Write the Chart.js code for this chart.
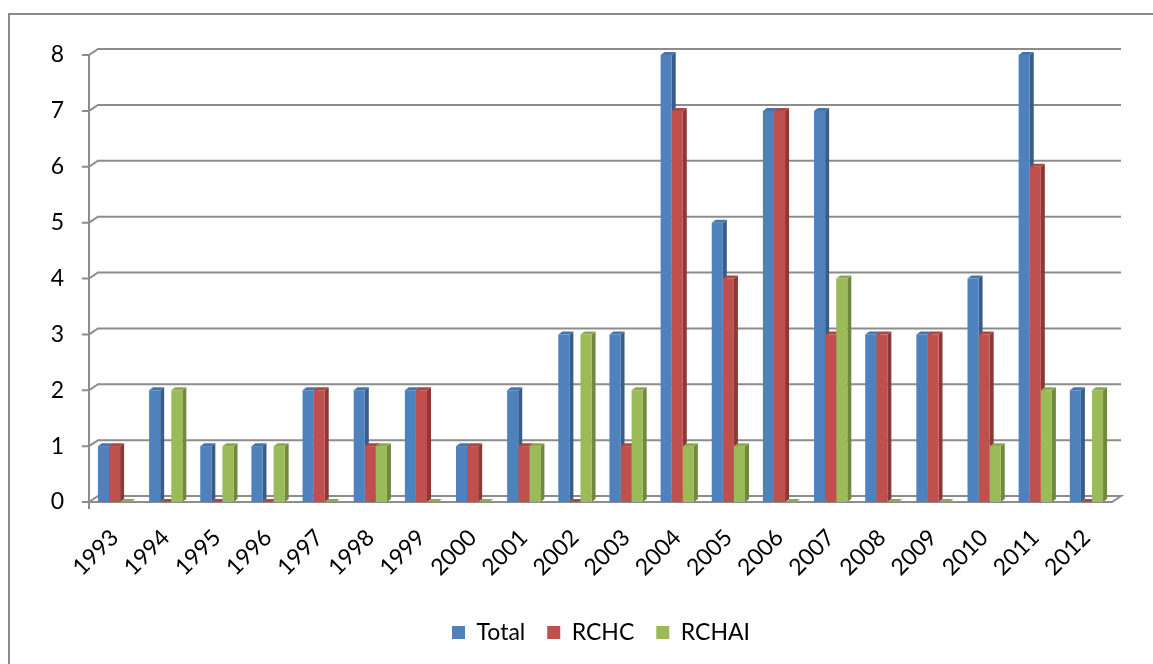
<!DOCTYPE html>
<html>
<head>
<meta charset="utf-8">
<script src="https://cdn.jsdelivr.net/npm/chart.js@4"></script>
<style>
  html, body { margin: 0; padding: 0; background: #fff; overflow: hidden; }
  canvas { display: block; }
</style>
</head>
<body>
<canvas id="c" width="1153" height="664"></canvas>
<script>
// Yearly counts
const years = ['1993','1994','1995','1996','1997','1998','1999','2000','2001','2002',
               '2003','2004','2005','2006','2007','2008','2009','2010','2011','2012'];
const total = [1, 2, 1, 1, 2, 2, 2, 1, 2, 3, 3, 8, 5, 7, 7, 3, 3, 4, 8, 2];
const rchc  = [1, 0, 0, 0, 2, 1, 2, 1, 1, 0, 1, 7, 4, 7, 3, 3, 3, 3, 6, 0];
const rchai = [0, 2, 1, 1, 0, 1, 0, 0, 1, 3, 2, 1, 1, 0, 4, 0, 0, 1, 2, 2];
const yMax = 8;

const FONT = 'Lato, "Open Sans", sans-serif';
const LINE = '#8c8c8c';
const WALL_DX = 9, WALL_DY = 6;   // offset of the back wall
const BAR_DX = 4, BAR_DY = 3;     // depth of each column

const colors = [
  { front: '#4F81BD', side: '#385D8A', top: '#4675AD' },
  { front: '#C0504D', side: '#8C3836', top: '#AD4744' },
  { front: '#9BBB59', side: '#71893F', top: '#8CA950' }
];

// Frame, back wall grid, floor, axis and the depth faces of the columns
const depth = {
  id: 'depth',
  afterLayout(chart) {
    // centre the legend under the framed area
    chart.legend.left = 49;
    chart.legend.right = 1153;
  },
  beforeDraw(chart) {
    const ctx = chart.ctx;
    ctx.save();
    ctx.strokeStyle = '#8a8a8a';
    ctx.lineWidth = 2;
    ctx.beginPath();
    ctx.moveTo(9, chart.height);
    ctx.lineTo(9, 14);
    ctx.lineTo(chart.width, 14);
    ctx.stroke();
    ctx.restore();
  },
  beforeDatasetsDraw(chart) {
    const { ctx, chartArea: a, scales: { y } } = chart;
    const b = y.getPixelForValue(0);
    ctx.save();
    ctx.strokeStyle = LINE;
    ctx.lineWidth = 2;
    y.ticks.forEach(t => {
      const py = y.getPixelForValue(t.value);
      ctx.beginPath();
      ctx.moveTo(a.left - 7, py);
      ctx.lineTo(a.left, py);
      if (t.value !== 0) {
        ctx.lineTo(a.left + WALL_DX, py - WALL_DY);
        ctx.lineTo(a.right + WALL_DX, py - WALL_DY);
      }
      ctx.stroke();
    });
    // floor
    ctx.beginPath();
    ctx.moveTo(a.left, b);
    ctx.lineTo(a.right, b);
    ctx.lineTo(a.right + WALL_DX, b - WALL_DY);
    ctx.lineTo(a.left + WALL_DX, b - WALL_DY);
    ctx.closePath();
    ctx.stroke();
    // vertical axis
    ctx.beginPath();
    ctx.moveTo(a.left, y.getPixelForValue(yMax));
    ctx.lineTo(a.left, b + 7);
    ctx.stroke();

    // side and top faces
    chart.data.datasets.forEach((ds, i) => {
      const c = colors[i];
      chart.getDatasetMeta(i).data.forEach(bar => {
        const p = bar.getProps(['x', 'y', 'base', 'width'], true);
        const l = p.x - p.width / 2, r = p.x + p.width / 2;
        ctx.fillStyle = c.side;
        ctx.beginPath();
        ctx.moveTo(r, p.y);
        ctx.lineTo(r + BAR_DX, p.y - BAR_DY);
        ctx.lineTo(r + BAR_DX, p.base - BAR_DY);
        ctx.lineTo(r, p.base);
        ctx.closePath();
        ctx.fill();
        ctx.fillStyle = c.top;
        ctx.beginPath();
        ctx.moveTo(l, p.y);
        ctx.lineTo(l + BAR_DX, p.y - BAR_DY);
        ctx.lineTo(r + BAR_DX, p.y - BAR_DY);
        ctx.lineTo(r, p.y);
        ctx.closePath();
        ctx.fill();
      });
    });
    ctx.restore();
  }
};

// Legend sits in a fixed-height band at the bottom
const legendBand = {
  id: 'legendBand',
  beforeInit(chart) {
    const fit = chart.legend.fit;
    chart.legend.fit = function () {
      fit.call(this);
      this.height = 65;
    };
  }
};

new Chart(document.getElementById('c'), {
  type: 'bar',
  data: {
    labels: years,
    datasets: [
      { label: 'Total', data: total, backgroundColor: colors[0].front },
      { label: 'RCHC',  data: rchc,  backgroundColor: colors[1].front },
      { label: 'RCHAI', data: rchai, backgroundColor: colors[2].front }
    ]
  },
  options: {
    responsive: false,
    animation: false,
    devicePixelRatio: 1,
    layout: { padding: { left: 0, right: 41, top: 55, bottom: 0 } },
    datasets: { bar: { categoryPercentage: 0.65, barPercentage: 1.0 } },
    scales: {
      x: {
        grid: { display: false },
        border: { display: false },
        ticks: {
          color: '#000',
          font: { family: FONT, size: 23 },
          minRotation: 45, maxRotation: 45,
          padding: 14,
          autoSkip: false
        },
        afterFit(s) { s.height = 97; }
      },
      y: {
        min: 0, max: yMax,
        grid: { display: false },
        border: { display: false },
        ticks: {
          stepSize: 1,
          color: '#000',
          font: { family: FONT, size: 23 },
          padding: 17
        },
        afterFit(s) { s.width = 89; }
      }
    },
    plugins: {
      legend: {
        position: 'bottom',
        labels: {
          boxWidth: 13, boxHeight: 13,
          padding: 22,
          color: '#000',
          font: { family: FONT, size: 23 }
        }
      },
      tooltip: { enabled: false }
    }
  },
  plugins: [depth, legendBand]
});
</script>
</body>
</html>
